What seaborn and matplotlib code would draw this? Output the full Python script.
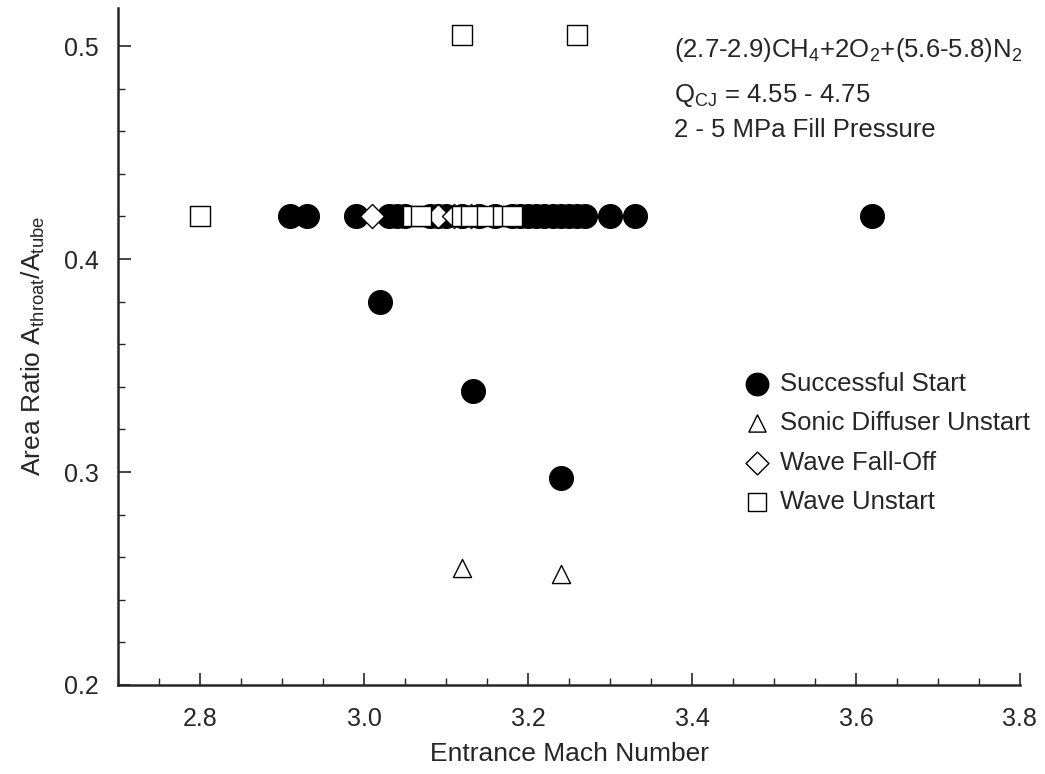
import matplotlib
matplotlib.use("Agg")
import matplotlib.pyplot as plt
import seaborn as sns
import pandas as pd
from matplotlib.ticker import MultipleLocator

# ---- data ----
success_x = [2.91, 2.93, 2.99, 3.03, 3.04, 3.05, 3.08, 3.09, 3.10, 3.12, 3.14, 3.16,
             3.18, 3.19, 3.20, 3.21, 3.22, 3.23, 3.24, 3.25, 3.26, 3.27, 3.30, 3.33, 3.62,
             3.02, 3.133, 3.24]
success_y = [0.42] * 25 + [0.38, 0.338, 0.297]

sonic_x = [3.12, 3.24]
sonic_y = [0.255, 0.252]

falloff_x = [3.01, 3.09, 3.11, 3.13]
falloff_y = [0.42, 0.42, 0.42, 0.42]

unstart_x = [2.80, 3.06, 3.07, 3.12, 3.13, 3.15, 3.17, 3.18, 3.12, 3.26]
unstart_y = [0.42, 0.42, 0.42, 0.42, 0.42, 0.42, 0.42, 0.42, 0.505, 0.505]

labels = ["Successful Start", "Sonic Diffuser Unstart", "Wave Fall-Off", "Wave Unstart"]

frames = []
for lab, xs, ys in zip(labels, [success_x, sonic_x, falloff_x, unstart_x],
                       [success_y, sonic_y, falloff_y, unstart_y]):
    frames.append(pd.DataFrame({"mach": xs, "ratio": ys, "outcome": lab}))
df = pd.concat(frames, ignore_index=True)

sns.set_theme(style="ticks")
plt.rcParams["font.family"] = ["Liberation Sans", "DejaVu Sans"]
plt.rcParams["mathtext.fontset"] = "custom"
plt.rcParams["mathtext.rm"] = "Liberation Sans"

fig = plt.figure(figsize=(10.45, 7.74), dpi=100)
ax = fig.add_axes([0.113, 0.115, 0.863, 0.875])

styles = {
    "Successful Start": dict(marker="o", s=290, color="black", edgecolor="black", linewidth=1.0),
    "Sonic Diffuser Unstart": dict(marker="^", s=170, color="white", edgecolor="black", linewidth=1.0),
    "Wave Fall-Off": dict(marker="D", s=150, color="white", edgecolor="black", linewidth=1.0),
    "Wave Unstart": dict(marker="s", s=190, color="white", edgecolor="black", linewidth=1.0),
}
for lab in labels:
    sub = df[df["outcome"] == lab]
    sns.scatterplot(data=sub, x="mach", y="ratio", ax=ax, label=lab, zorder=3, **styles[lab])

ax.set_xlim(2.7, 3.8)
ax.set_ylim(0.2, 0.518)
ax.xaxis.set_minor_locator(MultipleLocator(0.05))
ax.yaxis.set_minor_locator(MultipleLocator(0.02))
ax.set_xticks([2.8, 3.0, 3.2, 3.4, 3.6, 3.8])
ax.set_xticklabels(["2.8", "3.0", "3.2", "3.4", "3.6", "3.8"])
ax.set_yticks([0.2, 0.3, 0.4, 0.5])
ax.set_yticklabels(["0.2", "0.3", "0.4", "0.5"])
ax.tick_params(which="major", direction="in", length=9, width=1.2, labelsize=18)
ax.tick_params(axis="x", which="major", pad=16)
ax.tick_params(axis="y", which="major", pad=14)
ax.tick_params(which="minor", direction="in", length=5, width=1.0)
for sp in ["top", "right"]:
    ax.spines[sp].set_visible(False)
for sp in ["left", "bottom"]:
    ax.spines[sp].set_linewidth(1.8)

ax.set_xlabel("Entrance Mach Number", fontsize=19, labelpad=8)
ax.set_ylabel(r"Area Ratio A$_{\mathregular{throat}}$/A$_{\mathregular{tube}}$", fontsize=19, labelpad=12)

ax.text(0.645, 0.935, r"(2.7-2.9)CH$_4$+2O$_2$+(5.6-5.8)N$_2$", transform=fig.transFigure,
        fontsize=18.5, va="center", ha="left")
ax.text(0.645, 0.877, r"Q$_{\mathregular{CJ}}$ = 4.55 - 4.75", transform=fig.transFigure,
        fontsize=18.5, va="center", ha="left")
ax.text(0.645, 0.832, "2 - 5 MPa Fill Pressure", transform=fig.transFigure,
        fontsize=18.5, va="center", ha="left")

leg = ax.legend(loc="upper left", bbox_to_anchor=(0.695, 0.543), bbox_transform=fig.transFigure,
                frameon=False, fontsize=18.5, handletextpad=0.4, labelspacing=0.6,
                markerscale=0.95, handlelength=1.0, borderpad=0.2)

fig.savefig("out.png", dpi=100)
